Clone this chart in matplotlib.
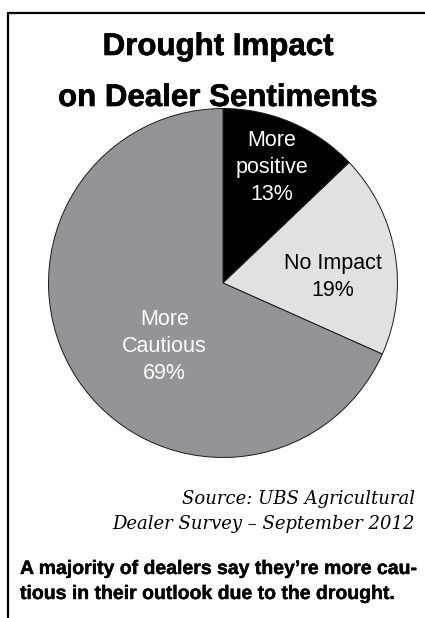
import matplotlib
matplotlib.use("Agg")
import matplotlib.pyplot as plt
from matplotlib.lines import Line2D
import matplotlib.patheffects as pe

W, H = 425, 618

categories = ["More\npositive", "No Impact", "More\nCautious"]
shares = [13, 19, 69]
colors = ["#000000", "#e0e1e3", "#929497"]
label_colors = ["white", "black", "white"]
# label anchor in units of the pie radius
label_pos = [(0.28, 0.66), (0.63, 0.035), (-0.335, -0.365)]

title_lines = ["Drought Impact", "on Dealer Sentiments"]
source_lines = ["Source: UBS Agricultural", "Dealer Survey \u2013 September 2012"]
caption_lines = ["A majority of dealers say they\u2019re more cau-",
                 "tious in their outlook due to the drought."]

fig = plt.figure(figsize=(W / 100, H / 100), dpi=100)


def fx(x):
    return x / W


def fy(y):
    return 1 - y / H


# frame along the top and left edges
fig.add_artist(Line2D([fx(8), fx(8), fx(W)], [fy(H), fy(12.5), fy(12.5)],
                      color="black", lw=1.6, solid_joinstyle="miter"))

# pie
cx, cy, r = 223, 283, 175
ax = fig.add_axes([fx(cx - r), fy(cy + r), 2 * r / W, 2 * r / H])
ax.pie(shares, colors=colors, startangle=90, counterclock=False,
       wedgeprops=dict(edgecolor="#1a1a1a", linewidth=0.7))
ax.set_xlim(-1.003, 1.003)
ax.set_ylim(-1.003, 1.003)
ax.set_axis_off()

for cat, val, (lx, ly), c in zip(categories, shares, label_pos, label_colors):
    ax.text(lx, ly, f"{cat}\n{val}%", ha="center", va="center", color=c,
            fontsize=15.5, family="Liberation Sans", linespacing=1.38)

# title
for txt, y in zip(title_lines, [55, 106]):
    fig.text(fx(218), fy(y), txt, ha="center", va="baseline",
             fontsize=22.5, fontweight="bold", family="Liberation Sans",
             path_effects=[pe.withStroke(linewidth=0.45, foreground="black")])

# source note
for txt, y in zip(source_lines, [504, 529]):
    fig.text(fx(415), fy(y), txt, ha="right", va="baseline",
             fontsize=13, style="italic", family="DejaVu Serif")

# caption
for txt, y in zip(caption_lines, [574, 599]):
    fig.text(fx(20), fy(y), txt, ha="left", va="baseline",
             fontsize=14, fontweight="bold", family="Liberation Sans",
             path_effects=[pe.withStroke(linewidth=0.3, foreground="black")])

fig.savefig("out.png", dpi=100)
